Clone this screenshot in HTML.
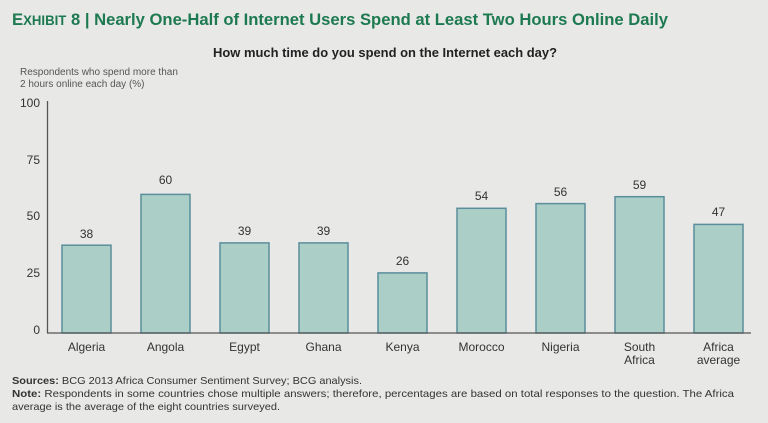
<!DOCTYPE html>
<html><head><meta charset="utf-8"><style>
body{margin:0;background:#e8e8e7;}
svg{display:block;font-family:"Liberation Sans",sans-serif;}
</style></head><body>
<svg width="768" height="423" viewBox="0 0 768 423">
<rect width="768" height="423" fill="#e8e8e7"/>
<text x="12" y="25" font-size="17" font-weight="bold" fill="#1d7a50" textLength="656" lengthAdjust="spacingAndGlyphs">E<tspan font-size="13.5">XHIBIT</tspan> 8 | Nearly One-Half of Internet Users Spend at Least Two Hours Online Daily</text>
<text x="213" y="57" font-size="12.5" font-weight="bold" fill="#222" textLength="344" lengthAdjust="spacingAndGlyphs">How much time do you spend on the Internet each day?</text>
<text x="20" y="75" font-size="10" fill="#555">Respondents who spend more than</text>
<text x="20" y="87" font-size="10" fill="#555">2 hours online each day (%)</text>
<g font-size="12" fill="#333" text-anchor="end">
<text x="40" y="107">100</text><text x="40" y="164">75</text><text x="40" y="220">50</text><text x="40" y="277">25</text><text x="40" y="334">0</text>
</g>
<g fill="#abcfc6" stroke="#5a8e9c" stroke-width="1.5">
<rect x="62" y="245.2" width="49" height="87.8"/>
<rect x="141" y="194.4" width="49" height="138.6"/>
<rect x="220" y="242.9" width="49" height="90.1"/>
<rect x="299" y="242.9" width="49" height="90.1"/>
<rect x="378" y="272.9" width="49" height="60.1"/>
<rect x="457" y="208.3" width="49" height="124.7"/>
<rect x="536" y="203.6" width="49" height="129.4"/>
<rect x="615" y="196.7" width="49" height="136.3"/>
<rect x="694" y="224.4" width="49" height="108.6"/>
</g>
<line x1="47.5" y1="101" x2="47.5" y2="333" stroke="#555" stroke-width="1.3"/>
<line x1="47" y1="333" x2="751" y2="333" stroke="#555" stroke-width="1.3"/>
<g font-size="12" fill="#333" text-anchor="middle">
<text x="86.5" y="238">38</text><text x="165.5" y="184">60</text><text x="244.5" y="235">39</text><text x="323.5" y="235">39</text><text x="402.5" y="265">26</text><text x="481.5" y="200">54</text><text x="560.5" y="196">56</text><text x="639.5" y="189">59</text><text x="718.5" y="216">47</text>
<text x="86.5" y="351">Algeria</text><text x="165.5" y="351">Angola</text><text x="244.5" y="351">Egypt</text><text x="323.5" y="351">Ghana</text><text x="402.5" y="351">Kenya</text><text x="481.5" y="351">Morocco</text><text x="560.5" y="351">Nigeria</text>
<text x="639.5" y="351">South</text><text x="639.5" y="364">Africa</text><text x="718.5" y="351">Africa</text><text x="718.5" y="364">average</text>
</g>
<g font-size="10.5" fill="#333">
<text x="12" y="384" textLength="350" lengthAdjust="spacingAndGlyphs"><tspan font-weight="bold">Sources:</tspan> BCG 2013 Africa Consumer Sentiment Survey; BCG analysis.</text>
<text x="12" y="397" textLength="722" lengthAdjust="spacingAndGlyphs"><tspan font-weight="bold">Note:</tspan> Respondents in some countries chose multiple answers; therefore, percentages are based on total responses to the question. The Africa</text>
<text x="12" y="410" textLength="268" lengthAdjust="spacingAndGlyphs">average is the average of the eight countries surveyed.</text>
</g>
</svg>
</body></html>
